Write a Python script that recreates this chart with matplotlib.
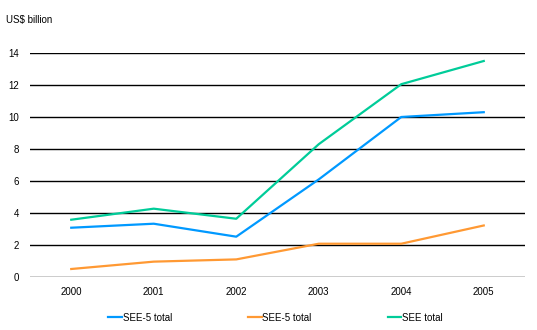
import numpy as np
import matplotlib.pyplot as plt

plt.rcParams['font.family'] = ['Liberation Sans', 'DejaVu Sans']

years = ['2000', '2001', '2002', '2003', '2004', '2005']
see5_total = [3.08, 3.33, 2.52, 6.1, 10.0, 10.3]
see5_other = [0.5, 0.96, 1.1, 2.08, 2.08, 3.22]
see_total = [3.58, 4.27, 3.64, 8.3, 12.05, 13.5]
labels = ['SEE-5 total', 'SEE-5 total', 'SEE total']
colors = ['#0099ff', '#ff9933', '#00cc99']

fig = plt.figure(figsize=(5.37, 3.3), dpi=100)
ax = fig.add_axes([30 / 537, 1 - 277 / 330, 495 / 537, 224 / 330])

x = np.arange(len(years))
for ys, lab, c in zip([see5_total, see5_other, see_total], labels, colors):
    ax.plot(x, ys, color=c, linewidth=1.6, label=lab, clip_on=False)

ax.set_xlim(-0.5, len(years) - 0.5)
ax.set_ylim(0, 14)
ax.set_yticks(range(0, 15, 2))
ax.set_xticks(x)
ax.set_xticklabels(years)
ax.yaxis.grid(True, color='black', linewidth=1)
ax.set_axisbelow(True)
for s in ax.spines.values():
    s.set_visible(False)
ax.tick_params(length=0, labelsize=7)
ax.tick_params(axis='x', pad=7)
ax.tick_params(axis='y', pad=8)

fig.text(6 / 537, 1 - 20 / 330, 'US$ billion', fontsize=7, va='center')

ax.legend(loc='upper center', bbox_to_anchor=(0.496, -0.12), ncol=3, frameon=False,
          fontsize=7, handlelength=1.4, columnspacing=7.8, handletextpad=0.1)

fig.savefig('out.png', dpi=100)
